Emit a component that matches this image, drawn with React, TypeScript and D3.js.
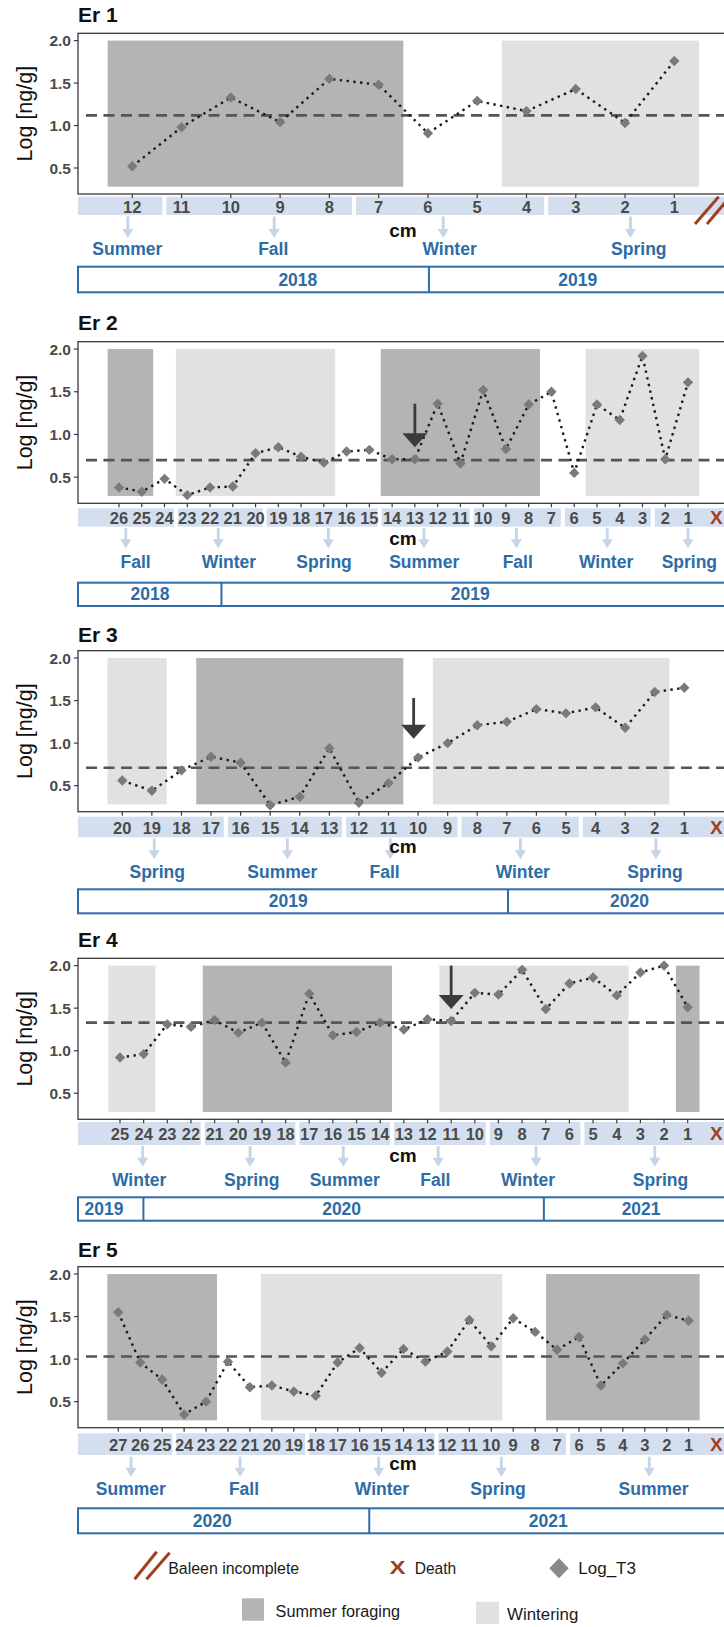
import React, { useEffect } from 'react';
import * as d3 from 'd3';

// ---------------- DATA ----------------
const er1Cm = [12, 11, 10, 9, 8, 7, 6, 5, 4, 3, 2, 1];
const er1T3 = [0.52, 0.98, 1.33, 1.04, 1.55, 1.48, 0.91, 1.29, 1.17, 1.43, 1.03, 1.76];
const er1Mean = 1.12;
const er1Foraging = [[12.5, 6.5]];
const er1Wintering = [[4.5, 0.5]];
const er1BandBreaks = [11.35, 7.5, 3.6];
const er1Seasons = ['Summer', 'Fall', 'Winter', 'Spring'];
const er1SeasonArrowCm = [12.09, 9.12, 5.69, 1.89];
const er1SeasonLabelCm = [12.1, 9.14, 5.56, 1.72];
const er1Years = ['2018', '2019'];
const er1YearLabelCm = [8.64, 2.96];
const er1YearDividers = [5.98];

const er2Cm = [26, 25, 24, 23, 22, 21, 20, 19, 18, 17, 16, 15, 14, 13, 12, 11, 10, 9, 8, 7, 6, 5, 4, 3, 2, 1];
const er2T3 = [0.38, 0.33, 0.48, 0.29, 0.38, 0.39, 0.78, 0.85, 0.74, 0.67, 0.80, 0.82, 0.71, 0.71, 1.36, 0.66, 1.52, 0.83, 1.35, 1.50, 0.55, 1.35, 1.17, 1.92, 0.71, 1.61];
const er2Mean = 0.70;
const er2Foraging = [[26.5, 24.5], [14.5, 7.5]];
const er2Wintering = [[23.5, 16.5], [5.5, 0.5]];
const er2BandBreaks = [23.5, 19.6, 14.55, 10.5, 6.5, 2.55];
const er2Seasons = ['Fall', 'Winter', 'Spring', 'Summer', 'Fall', 'Winter', 'Spring'];
const er2SeasonArrowCm = [25.7, 21.64, 16.8, 12.6, 8.54, 4.55, 1.0];
const er2SeasonLabelCm = [25.27, 21.17, 16.99, 12.59, 8.48, 4.6, 0.94];
const er2Years = ['2018', '2019'];
const er2YearLabelCm = [24.64, 10.57];
const er2YearDividers = [21.5];
const er2ShiftArrow = [13, 1.36, 0.85]; // cm, top value, tip value

const er3Cm = [20, 19, 18, 17, 16, 15, 14, 13, 12, 11, 10, 9, 8, 7, 6, 5, 4, 3, 2, 1];
const er3T3 = [0.56, 0.44, 0.68, 0.84, 0.77, 0.27, 0.37, 0.94, 0.30, 0.53, 0.83, 1.00, 1.21, 1.25, 1.40, 1.35, 1.42, 1.18, 1.60, 1.65];
const er3Mean = 0.71;
const er3Foraging = [[17.5, 10.5]];
const er3Wintering = [[20.5, 18.5], [9.5, 1.5]];
const er3BandBreaks = [16.5, 12.5, 8.6, 4.5];
const er3Seasons = ['Spring', 'Summer', 'Fall', 'Winter', 'Spring'];
const er3SeasonArrowCm = [18.92, 14.42, 10.94, 6.54, 1.96];
const er3SeasonLabelCm = [18.82, 14.59, 11.13, 6.46, 1.99];
const er3Years = ['2019', '2020'];
const er3YearLabelCm = [14.39, 2.85];
const er3YearDividers = [6.96];
const er3ShiftArrow = [10.15, 1.53, 1.05];

const er4Cm = [25, 24, 23, 22, 21, 20, 19, 18, 17, 16, 15, 14, 13, 12, 11, 10, 9, 8, 7, 6, 5, 4, 3, 2, 1];
const er4T3 = [0.92, 0.96, 1.31, 1.28, 1.36, 1.21, 1.33, 0.86, 1.67, 1.18, 1.22, 1.33, 1.25, 1.37, 1.35, 1.68, 1.66, 1.95, 1.49, 1.79, 1.86, 1.65, 1.92, 2.00, 1.51];
const er4Mean = 1.33;
const er4Foraging = [[21.5, 13.5], [1.5, 0.5]];
const er4Wintering = [[25.5, 23.5], [11.5, 3.5]];
const er4BandBreaks = [21.5, 17.5, 13.5, 9.45, 5.45];
const er4Seasons = ['Winter', 'Spring', 'Summer', 'Fall', 'Winter', 'Spring'];
const er4SeasonArrowCm = [24.04, 19.5, 15.56, 11.55, 7.41, 2.39];
const er4SeasonLabelCm = [24.19, 19.43, 15.5, 11.67, 7.75, 2.15];
const er4Years = ['2019', '2020', '2021'];
const er4YearLabelCm = [25.68, 15.63, 2.97];
const er4YearDividers = [24.01, 7.08];
const er4ShiftArrow = [11, 2.0, 1.49];

const er5Cm = [27, 26, 25, 24, 23, 22, 21, 20, 19, 18, 17, 16, 15, 14, 13, 12, 11, 10, 9, 8, 7, 6, 5, 4, 3, 2, 1];
const er5T3 = [1.55, 0.96, 0.76, 0.35, 0.50, 0.97, 0.67, 0.69, 0.62, 0.57, 0.96, 1.13, 0.84, 1.12, 0.97, 1.09, 1.46, 1.15, 1.48, 1.32, 1.11, 1.26, 0.69, 0.95, 1.23, 1.52, 1.45];
const er5Mean = 1.03;
const er5Foraging = [[27.5, 22.5], [7.5, 0.5]];
const er5Wintering = [[20.5, 9.5]];
const er5BandBreaks = [24.45, 18.4, 12.5, 6.5];
const er5Seasons = ['Summer', 'Fall', 'Winter', 'Spring', 'Summer'];
const er5SeasonArrowCm = [26.42, 21.45, 15.13, 9.54, 2.8];
const er5SeasonLabelCm = [26.43, 21.27, 14.98, 9.69, 2.6];
const er5Years = ['2020', '2021'];
const er5YearLabelCm = [22.72, 7.4];
const er5YearDividers = [15.56];

const yTicks = [0.5, 1.0, 1.5, 2.0];
const yDomain = [0.194, 2.086];
const shadeRange = [0.28, 2.0];

const panels = [
  { name: 'Er 1', cm: er1Cm, t3: er1T3, mean: er1Mean, foraging: er1Foraging, wintering: er1Wintering, bandBreaks: er1BandBreaks, seasons: er1Seasons, seasonArrowCm: er1SeasonArrowCm, seasonLabelCm: er1SeasonLabelCm, years: er1Years, yearLabelCm: er1YearLabelCm, yearDividers: er1YearDividers, shift: null, end: 'incomplete' },
  { name: 'Er 2', cm: er2Cm, t3: er2T3, mean: er2Mean, foraging: er2Foraging, wintering: er2Wintering, bandBreaks: er2BandBreaks, seasons: er2Seasons, seasonArrowCm: er2SeasonArrowCm, seasonLabelCm: er2SeasonLabelCm, years: er2Years, yearLabelCm: er2YearLabelCm, yearDividers: er2YearDividers, shift: er2ShiftArrow, end: 'death' },
  { name: 'Er 3', cm: er3Cm, t3: er3T3, mean: er3Mean, foraging: er3Foraging, wintering: er3Wintering, bandBreaks: er3BandBreaks, seasons: er3Seasons, seasonArrowCm: er3SeasonArrowCm, seasonLabelCm: er3SeasonLabelCm, years: er3Years, yearLabelCm: er3YearLabelCm, yearDividers: er3YearDividers, shift: er3ShiftArrow, end: 'death' },
  { name: 'Er 4', cm: er4Cm, t3: er4T3, mean: er4Mean, foraging: er4Foraging, wintering: er4Wintering, bandBreaks: er4BandBreaks, seasons: er4Seasons, seasonArrowCm: er4SeasonArrowCm, seasonLabelCm: er4SeasonLabelCm, years: er4Years, yearLabelCm: er4YearLabelCm, yearDividers: er4YearDividers, shift: er4ShiftArrow, end: 'death' },
  { name: 'Er 5', cm: er5Cm, t3: er5T3, mean: er5Mean, foraging: er5Foraging, wintering: er5Wintering, bandBreaks: er5BandBreaks, seasons: er5Seasons, seasonArrowCm: er5SeasonArrowCm, seasonLabelCm: er5SeasonLabelCm, years: er5Years, yearLabelCm: er5YearLabelCm, yearDividers: er5YearDividers, shift: null, end: 'death' },
];

// ---------------- LAYOUT ----------------
const layouts = [
  { top: 33.3, bottom: 194, xFirst: 132.3, xLast: 674.3, bandTop: 196.7, bandBot: 215, tickBase: 213, arrowTop: 216.5, arrowBot: 238, seasonBase: 255, cmBase: 236.7, yearTop: 266.7, yearBot: 292.3, yearBase: 285.5, titleBase: 22 },
  { top: 341.7, bottom: 503.3, xFirst: 119, xLast: 688, bandTop: 508.3, bandBot: 526.7, tickBase: 523.5, arrowTop: 528.3, arrowBot: 548.3, seasonBase: 568.3, cmBase: 545, yearTop: 582.7, yearBot: 606, yearBase: 600, titleBase: 330 },
  { top: 650.7, bottom: 811.7, xFirst: 122.3, xLast: 684.3, bandTop: 816.7, bandBot: 837.3, tickBase: 834, arrowTop: 838.3, arrowBot: 859.3, seasonBase: 878.3, cmBase: 853.3, yearTop: 889.3, yearBot: 913.3, yearBase: 907.3, titleBase: 641.7 },
  { top: 958.3, bottom: 1119.3, xFirst: 120, xLast: 687.7, bandTop: 1122, bandBot: 1145, tickBase: 1139.5, arrowTop: 1146, arrowBot: 1166.7, seasonBase: 1186, cmBase: 1161.7, yearTop: 1197.3, yearBot: 1220.7, yearBase: 1215, titleBase: 947.3 },
  { top: 1266.7, bottom: 1427.7, xFirst: 118.3, xLast: 688.7, bandTop: 1433.3, bandBot: 1455, tickBase: 1451, arrowTop: 1456.7, arrowBot: 1476.7, seasonBase: 1495, cmBase: 1470, yearTop: 1508.3, yearBot: 1533.3, yearBase: 1526.7, titleBase: 1256.7 },
];

const FONT = '"Liberation Sans", Arial, Helvetica, sans-serif';
const PLOT_LEFT = 78;
const RIGHT = 745;
const C = {
  foraging: '#b4b4b4',
  wintering: '#e1e1e1',
  band: '#d3dfee',
  seasonArrow: '#c6d4e7',
  blue: '#2d6ca6',
  tick: '#4a4a4a',
  point: '#7a7a7a',
  brown: '#a13f1f',
  frame: '#3a3a3a',
  mean: '#555555',
};

const diamond = (r: number) => `M0,${-r}L${r},0L0,${r}L${-r},0Z`;

function Panel({ p, L }: { p: any; L: any }) {
  const x = d3.scaleLinear().domain([p.cm[0], 1]).range([L.xFirst, L.xLast]);
  const y = d3.scaleLinear().domain(yDomain).range([L.bottom, L.top]);
  const pts = p.cm.map((c: number, i: number) => [x(c), y(p.t3[i])] as [number, number]);
  const line = d3.line()(pts) || '';

  const edges = [PLOT_LEFT, ...p.bandBreaks.map((b: number) => x(b)), 724];
  const bandSegs = edges.slice(0, -1).map((e: number, i: number) => {
    const x0 = i === 0 ? e : e + 2;
    const x1 = i === edges.length - 2 ? edges[i + 1] : edges[i + 1] - 2;
    return [x0, x1];
  });

  return (
    <g>
      <text x={PLOT_LEFT} y={L.titleBase} fontFamily={FONT} fontWeight="bold" fontSize={21} fill="#111">{p.name}</text>
      <text transform={`translate(32,${(L.top + L.bottom) / 2}) rotate(-90)`} textAnchor="middle" fontFamily={FONT} fontSize={21.5} fill="#111">Log [ng/g]</text>

      {p.foraging.map((r: number[], i: number) => (
        <rect key={'f' + i} x={x(r[0])} width={x(r[1]) - x(r[0])} y={y(shadeRange[1])} height={y(shadeRange[0]) - y(shadeRange[1])} fill={C.foraging} />
      ))}
      {p.wintering.map((r: number[], i: number) => (
        <rect key={'w' + i} x={x(r[0])} width={x(r[1]) - x(r[0])} y={y(shadeRange[1])} height={y(shadeRange[0]) - y(shadeRange[1])} fill={C.wintering} />
      ))}

      <rect x={PLOT_LEFT} y={L.top} width={RIGHT - PLOT_LEFT} height={L.bottom - L.top} fill="none" stroke={C.frame} strokeWidth={1.3} />

      <line x1={PLOT_LEFT + 8} x2={RIGHT} y1={y(p.mean)} y2={y(p.mean)} stroke={C.mean} strokeWidth={2.6} strokeDasharray="11 6.5" />

      <path d={line} fill="none" stroke="#1a1a1a" strokeWidth={2.4} strokeDasharray="2.4 4.4" />
      {pts.map((pt: number[], i: number) => (
        <path key={'p' + i} d={diamond(5.2)} transform={`translate(${pt[0]},${pt[1]})`} fill={C.point} />
      ))}

      {p.shift && (() => {
        const ax = x(p.shift[0]);
        const yt = y(p.shift[1]);
        const tip = y(p.shift[2]);
        return (
          <g>
            <line x1={ax} x2={ax} y1={yt} y2={tip - 12} stroke="#3b3b3b" strokeWidth={2.8} />
            <polygon points={`${ax - 12.5},${tip - 14} ${ax + 12.5},${tip - 14} ${ax},${tip}`} fill="#3b3b3b" />
          </g>
        );
      })()}

      {yTicks.map((t) => (
        <g key={'yt' + t}>
          <line x1={PLOT_LEFT - 4} x2={PLOT_LEFT} y1={y(t)} y2={y(t)} stroke={C.frame} strokeWidth={1.2} />
          <text x={PLOT_LEFT - 7} y={y(t) + 5.5} textAnchor="end" fontFamily={FONT} fontWeight="bold" fontSize={15.5} fill={C.tick}>{t.toFixed(1)}</text>
        </g>
      ))}

      {bandSegs.map((s: number[], i: number) => (
        <rect key={'b' + i} x={s[0]} width={s[1] - s[0]} y={L.bandTop} height={L.bandBot - L.bandTop} fill={C.band} />
      ))}
      {p.cm.map((c: number) => (
        <g key={'xt' + c}>
          <line x1={x(c)} x2={x(c)} y1={L.bottom} y2={L.bottom + 4} stroke={C.frame} strokeWidth={1.2} />
          <text x={x(c)} y={L.tickBase} textAnchor="middle" fontFamily={FONT} fontWeight="bold" fontSize={16.5} fill={C.tick}>{c}</text>
        </g>
      ))}

      {p.end === 'death' ? (
        <text x={710} y={L.tickBase} fontFamily={FONT} fontWeight="bold" fontSize={19} fill={C.brown}>X</text>
      ) : (
        <g stroke={C.brown} strokeWidth={3}>
          <line x1={695} y1={L.bandBot + 9} x2={718.7} y2={L.bandTop} />
          <line x1={707} y1={L.bandBot + 9} x2={730} y2={L.bandTop} />
        </g>
      )}

      {p.seasonArrowCm.map((c: number, i: number) => {
        const ax = x(c);
        return (
          <g key={'sa' + i}>
            <line x1={ax} x2={ax} y1={L.arrowTop} y2={L.arrowBot - 7} stroke={C.seasonArrow} strokeWidth={2.8} />
            <polygon points={`${ax - 5.5},${L.arrowBot - 9} ${ax + 5.5},${L.arrowBot - 9} ${ax},${L.arrowBot}`} fill={C.seasonArrow} />
          </g>
        );
      })}
      {p.seasons.map((s: string, i: number) => (
        <text key={'sl' + i} x={x(p.seasonLabelCm[i])} y={L.seasonBase} textAnchor="middle" fontFamily={FONT} fontWeight="bold" fontSize={17.5} fill={C.blue}>{s}</text>
      ))}

      <text x={403} y={L.cmBase} textAnchor="middle" fontFamily={FONT} fontWeight="bold" fontSize={19} fill="#111">cm</text>

      <rect x={PLOT_LEFT} y={L.yearTop} width={RIGHT - PLOT_LEFT} height={L.yearBot - L.yearTop} fill="none" stroke={C.blue} strokeWidth={2} />
      {p.yearDividers.map((d: number, i: number) => (
        <line key={'yd' + i} x1={x(d)} x2={x(d)} y1={L.yearTop} y2={L.yearBot} stroke={C.blue} strokeWidth={2} />
      ))}
      {p.years.map((yr: string, i: number) => (
        <text key={'yl' + i} x={x(p.yearLabelCm[i])} y={L.yearBase} textAnchor="middle" fontFamily={FONT} fontWeight="bold" fontSize={17.5} fill={C.blue}>{yr}</text>
      ))}
    </g>
  );
}

export default function App() {
  useEffect(() => {
    document.body.style.margin = '0';
    document.body.style.overflow = 'hidden';
  }, []);
  return (
    <svg width={724} height={1627} viewBox="0 0 724 1627" style={{ display: 'block', background: '#fff' }}>
      <rect x={0} y={0} width={724} height={1627} fill="#fff" />
      {panels.map((p, i) => (
        <Panel key={p.name} p={p} L={layouts[i]} />
      ))}

      {/* legend */}
      <g>
        <g stroke={C.brown} strokeWidth={3}>
          <line x1={134.6} y1={1579.3} x2={156.7} y2={1551.7} />
          <line x1={146.5} y1={1579.3} x2={169.6} y2={1552.7} />
        </g>
        <text x={168.2} y={1574} fontFamily={FONT} fontSize={16} fill="#1a1a1a" textLength={131} lengthAdjust="spacingAndGlyphs">Baleen incomplete</text>
        <text x={389.4} y={1574.3} fontFamily={FONT} fontWeight="bold" fontSize={19} fill={C.brown} textLength={16} lengthAdjust="spacingAndGlyphs">X</text>
        <text x={414.7} y={1574} fontFamily={FONT} fontSize={16} fill="#1a1a1a" textLength={41.5} lengthAdjust="spacingAndGlyphs">Death</text>
        <path d="M0,-10L9.7,0L0,10L-9.7,0Z" transform="translate(559,1568.3)" fill="#8a8a8a" />
        <text x={578.3} y={1574} fontFamily={FONT} fontSize={16} fill="#1a1a1a" textLength={57.6} lengthAdjust="spacingAndGlyphs">Log_T3</text>
        <rect x={242} y={1598.3} width={22} height={22.4} fill={C.foraging} />
        <text x={275.6} y={1616.7} fontFamily={FONT} fontSize={16} fill="#1a1a1a" textLength={124.4} lengthAdjust="spacingAndGlyphs">Summer foraging</text>
        <rect x={476} y={1601.7} width={23} height={22.3} fill={C.wintering} />
        <text x={507} y={1620} fontFamily={FONT} fontSize={16} fill="#1a1a1a" textLength={71.3} lengthAdjust="spacingAndGlyphs">Wintering</text>
      </g>
    </svg>
  );
}
